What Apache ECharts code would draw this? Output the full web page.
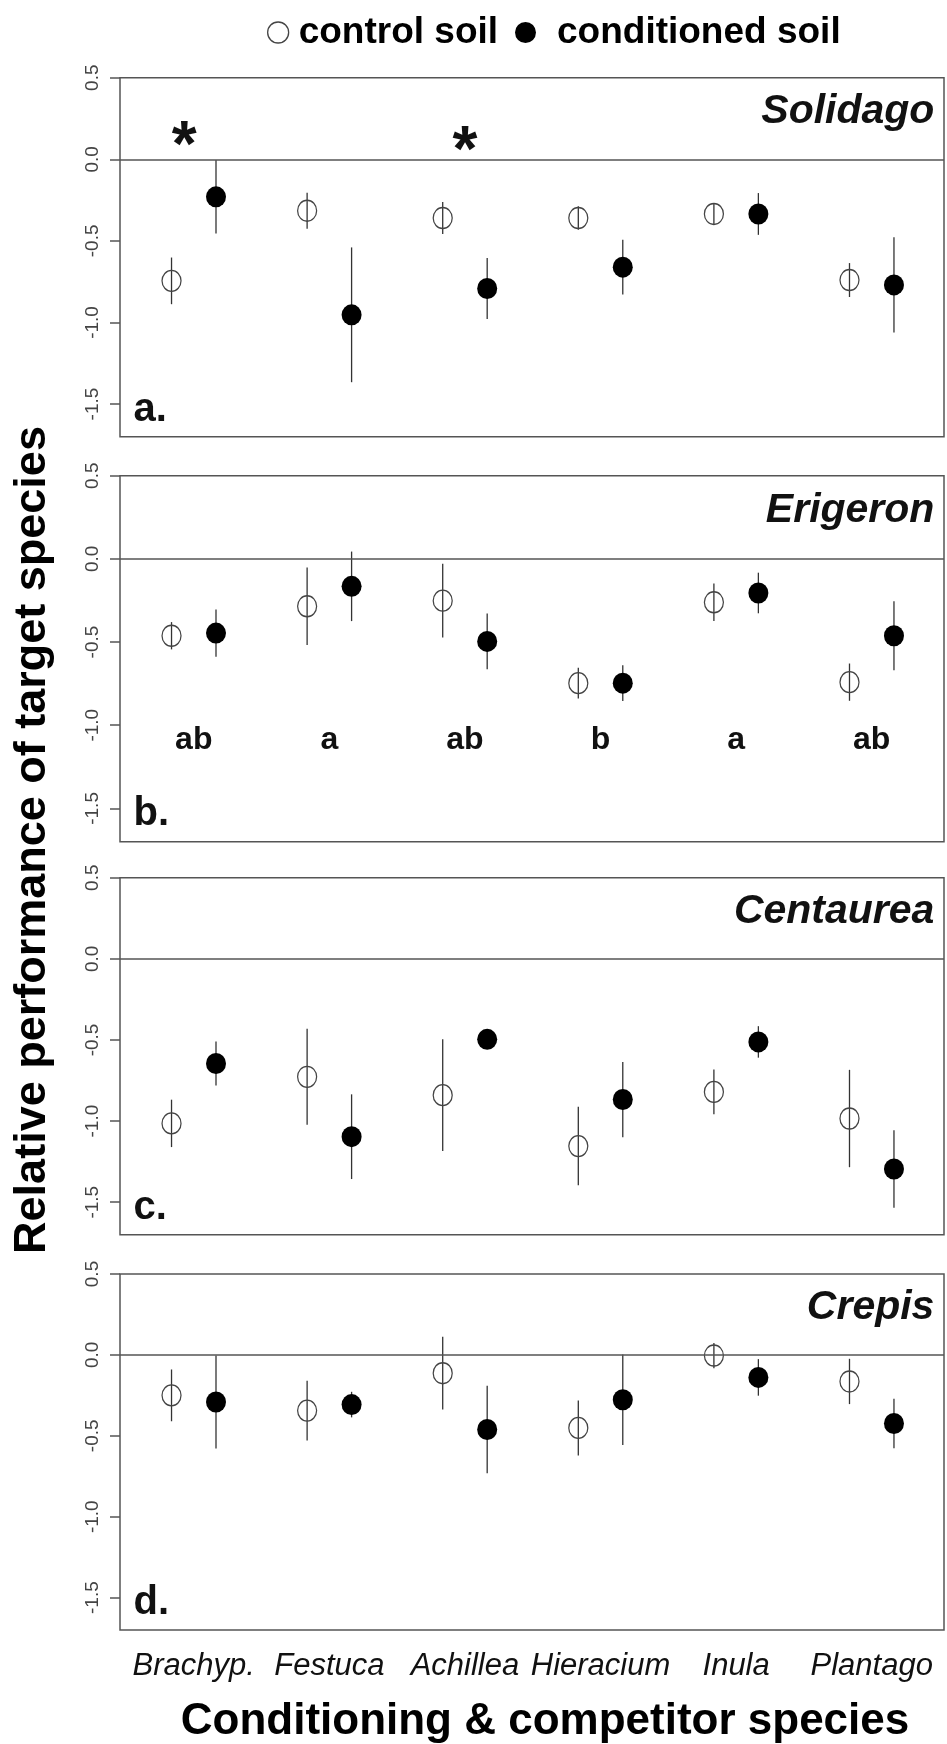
<!DOCTYPE html>
<html lang="en">
<head>
    <meta charset="UTF-8">
    <title>Relative performance of target species</title>
    <style>
        html, body { margin: 0; padding: 0; background: #fff; }
        #main { width: 947px; height: 1744px; }
    </style>
</head>
<body>
<div id="main"></div>
<script src="https://cdn.jsdelivr.net/npm/echarts@6/dist/echarts.min.js"></script>
<script>
    // categories (conditioning & competitor species) and tick labels
    var categories = ['Brachyp.', 'Festuca', 'Achillea', 'Hieracium', 'Inula', 'Plantago'];
    var targets = ['Solidago', 'Erigeron', 'Centaurea', 'Crepis'];
    var panelLetters = ['a.', 'b.', 'c.', 'd.'];
    var yTicks = [-1.5, -1.0, -0.5, 0, 0.5];

    // a. Solidago
    var solidagoControl = [-0.745, -0.315, -0.36, -0.36, -0.335, -0.74];
    var solidagoControlErr = [0.143, 0.11, 0.098, 0.072, 0.063, 0.104];
    var solidagoCond = [-0.23, -0.953, -0.792, -0.661, -0.335, -0.77];
    var solidagoCondErr = [0.225, 0.413, 0.187, 0.168, 0.128, 0.292];
    // b. Erigeron
    var erigeronControl = [-0.462, -0.285, -0.251, -0.747, -0.261, -0.741];
    var erigeronControlErr = [0.082, 0.233, 0.221, 0.092, 0.113, 0.112];
    var erigeronCond = [-0.446, -0.165, -0.496, -0.747, -0.205, -0.462];
    var erigeronCondErr = [0.142, 0.209, 0.168, 0.107, 0.122, 0.208];
    // c. Centaurea
    var centaureaControl = [-1.014, -0.727, -0.84, -1.154, -0.82, -0.984];
    var centaureaControlErr = [0.146, 0.296, 0.344, 0.242, 0.138, 0.3];
    var centaureaCond = [-0.645, -1.096, -0.496, -0.867, -0.512, -1.295];
    var centaureaCondErr = [0.135, 0.261, 0.06, 0.232, 0.097, 0.239];
    // d. Crepis
    var crepisControl = [-0.25, -0.344, -0.113, -0.451, -0.004, -0.164];
    var crepisControlErr = [0.16, 0.185, 0.225, 0.17, 0.078, 0.14];
    var crepisCond = [-0.291, -0.307, -0.461, -0.277, -0.139, -0.424];
    var crepisCondErr = [0.287, 0.079, 0.271, 0.28, 0.113, 0.153];

    // significance marks (panel a) and group letters (panel b)
    var starX = [0.93, 3.0];
    var starY = [0.153, 0.125];
    var erigeronGroups = ['ab', 'a', 'ab', 'b', 'a', 'ab'];
    var groupLetterY = -1.09;

    var controls = [solidagoControl, erigeronControl, centaureaControl, crepisControl];
    var controlErrs = [solidagoControlErr, erigeronControlErr, centaureaControlErr, crepisControlErr];
    var conds = [solidagoCond, erigeronCond, centaureaCond, crepisCond];
    var condErrs = [solidagoCondErr, erigeronCondErr, centaureaCondErr, crepisCondErr];

    var dodge = 0.164;
    var xMin = 0.456, xMax = 6.533;
    var font = '"Liberation Sans", Arial, Helvetica, sans-serif';

    // panel frames
    var grids = [
        {left: 120, right: 3, top: 77.7, height: 359},
        {left: 120, right: 3, top: 475.7, height: 366},
        {left: 120, right: 3, top: 877.7, height: 357},
        {left: 120, right: 3, top: 1274, height: 356}
    ];

    function errBars(params, api) {
        var lo = api.coord([api.value(0), api.value(1)]);
        var hi = api.coord([api.value(0), api.value(2)]);
        return {
            type: 'line',
            shape: {x1: lo[0], y1: lo[1], x2: hi[0], y2: hi[1]},
            style: {stroke: '#333', lineWidth: 1.3}
        };
    }

    var xAxes = [], yAxes = [], series = [];
    for (var k = 0; k < 4; k++) {
        grids[k].show = true;
        grids[k].borderColor = '#555';
        grids[k].borderWidth = 1.5;
        grids[k].outerBoundsMode = 'none';
        var last = k === 3;
        xAxes.push({
            gridIndex: k, type: 'value', min: xMin, max: xMax,
            axisLine: {show: false}, axisTick: {show: false}, splitLine: {show: false},
            axisLabel: last ? {
                show: true, customValues: [1, 2, 3, 4, 5, 6],
                formatter: function (v) { return categories[Math.round(v) - 1]; },
                fontFamily: font, fontSize: 31, fontStyle: 'italic', color: '#111', margin: 21
            } : {show: false},
            name: last ? 'Conditioning & competitor species' : '',
            nameLocation: 'middle', nameGap: 70,
            nameTextStyle: {fontFamily: font, fontSize: 44, fontWeight: 'bold', color: '#000', padding: [0, 0, 0, 26]}
        });
        yAxes.push({
            gridIndex: k, type: 'value', min: -1.7, max: 0.5,
            axisLine: {show: false},
            splitLine: {show: false},
            axisTick: {show: true, customValues: yTicks, length: 10, lineStyle: {color: '#555', width: 1.5}},
            axisLabel: {
                show: true, customValues: yTicks, rotate: 90, margin: 18,
                formatter: function (v) { return v.toFixed(1); },
                fontFamily: font, fontSize: 19, color: '#444'
            }
        });

        var ctrlPts = [], condPts = [], ctrlBars = [], condBars = [];
        for (var i = 0; i < categories.length; i++) {
            var xc = i + 1 - dodge, xd = i + 1 + dodge;
            ctrlPts.push([xc, controls[k][i]]);
            condPts.push([xd, conds[k][i]]);
            ctrlBars.push([xc, controls[k][i] - controlErrs[k][i], controls[k][i] + controlErrs[k][i]]);
            condBars.push([xd, conds[k][i] - condErrs[k][i], conds[k][i] + condErrs[k][i]]);
        }

        series.push({
            type: 'custom', name: 'err-c' + k, xAxisIndex: k, yAxisIndex: k,
            renderItem: errBars, data: ctrlBars, encode: {x: 0, y: [1, 2]}, z: 2, silent: true
        });
        series.push({
            type: 'custom', name: 'err-d' + k, xAxisIndex: k, yAxisIndex: k,
            renderItem: errBars, data: condBars, encode: {x: 0, y: [1, 2]}, z: 2, silent: true
        });
        series.push({
            type: 'scatter', name: 'control soil', xAxisIndex: k, yAxisIndex: k,
            data: ctrlPts, symbol: 'circle', symbolSize: [19, 21], z: 3,
            itemStyle: {color: 'rgba(0,0,0,0)', borderColor: '#444', borderWidth: 1.3, opacity: 1}
        });
        series.push({
            type: 'scatter', name: 'conditioned soil', xAxisIndex: k, yAxisIndex: k,
            data: condPts, symbol: 'circle', symbolSize: [20, 21], z: 3,
            itemStyle: {color: '#000', borderColor: '#000', borderWidth: 0, opacity: 1},
            markLine: {
                silent: true, symbol: ['none', 'none'], label: {show: false},
                lineStyle: {color: '#555', width: 1.5, type: 'solid'},
                data: [{yAxis: 0}]
            }
        });

        // text annotations placed on the panel's own scales
        var notes = [
            {value: [6.466, 0.29], label: {formatter: targets[k], position: 'left', distance: 0,
                fontFamily: font, fontSize: 41, fontWeight: 'bold', fontStyle: 'italic', color: '#111'}},
            {value: [0.552, -1.535], label: {formatter: panelLetters[k], position: 'right', distance: 0,
                fontFamily: font, fontSize: 40, fontWeight: 'bold', color: '#111'}}
        ];
        if (k === 0) {
            for (var s = 0; s < starX.length; s++) {
                notes.push({value: [starX[s], starY[s]], label: {formatter: '*', position: 'inside',
                    offset: [0, 14], fontFamily: font, fontSize: 64, fontWeight: 'bold', color: '#111'}});
            }
        }
        if (k === 1) {
            for (var g = 0; g < erigeronGroups.length; g++) {
                notes.push({value: [g + 1, groupLetterY], label: {formatter: erigeronGroups[g], position: 'inside',
                    fontFamily: font, fontSize: 32, fontWeight: 'bold', color: '#111'}});
            }
        }
        series.push({
            type: 'scatter', name: 'notes' + k, xAxisIndex: k, yAxisIndex: k,
            symbolSize: 1, itemStyle: {color: 'rgba(0,0,0,0)', opacity: 1}, silent: true, z: 5,
            label: {show: true},
            data: notes
        });
    }

    var legendText = {fontFamily: font, fontSize: 37, fontWeight: 'bold', color: '#000'};
    var myChart = echarts.init(document.getElementById('main'));
    var option = {
        animation: false,
        backgroundColor: '#fff',
        legend: [{
            left: 267, top: 14, padding: 0, itemWidth: 21, itemHeight: 21, selectedMode: false,
            textStyle: Object.assign({padding: [0, 0, 0, 5]}, legendText),
            data: [{name: 'control soil', icon: 'circle',
                itemStyle: {color: 'rgba(0,0,0,0)', borderColor: '#444', borderWidth: 1.3}}]
        }, {
            left: 515, top: 14, padding: 0, itemWidth: 21, itemHeight: 21, selectedMode: false,
            textStyle: Object.assign({padding: [0, 0, 0, 16]}, legendText),
            data: [{name: 'conditioned soil', icon: 'circle',
                itemStyle: {color: '#000', borderColor: '#000', borderWidth: 0}}]
        }],
        graphic: [{
            type: 'text', x: 33, y: 840, rotation: Math.PI / 2,
            style: {
                text: 'Relative performance of target species',
                font: 'bold 45px "Liberation Sans", Arial, sans-serif',
                fill: '#000', textAlign: 'center', textVerticalAlign: 'middle'
            }
        }],
        grid: grids,
        xAxis: xAxes,
        yAxis: yAxes,
        series: series
    };
    myChart.setOption(option);
</script>
</body>
</html>
